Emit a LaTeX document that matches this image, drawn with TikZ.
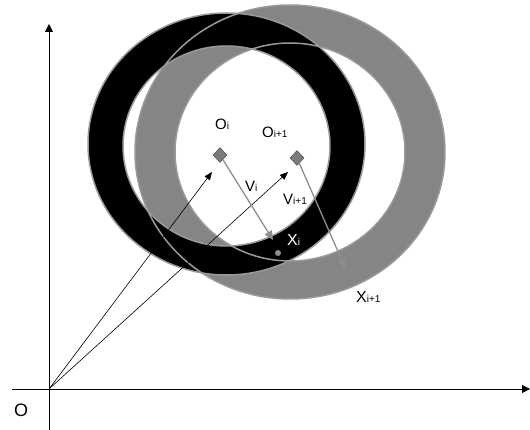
\documentclass[tikz,border=0pt]{standalone}
\usepackage{fontspec}
\setmainfont{Liberation Sans}
\usetikzlibrary{arrows.meta,shapes.geometric}
\definecolor{ringgray}{HTML}{858585}
\definecolor{edgegray}{HTML}{9A9A9A}
\definecolor{vecgray}{HTML}{8E8E8E}
\definecolor{dmdgray}{HTML}{7C7C7C}
\tikzset{
  ringedge/.style={draw=edgegray,line width=1.5pt},
  axisline/.style={line width=0.9pt,-{Triangle[length=8pt,width=8pt]}},
  posvec/.style={line width=0.6pt,black,-{Triangle[length=8pt,width=6.5pt]}},
  velvec/.style={line width=1.3pt,vecgray,-{Triangle[length=9pt,width=8pt]}},
  centre/.style={diamond,fill=dmdgray,draw=black!70,line width=0.5pt,inner sep=0pt,minimum width=14pt,minimum height=15pt},
  lbl/.style={inner sep=0pt,anchor=base west,font=\fontsize{15}{15}\selectfont},
}
\newcommand{\subtx}[1]{{\fontsize{10}{10}\selectfont #1}}
\begin{document}
\begin{tikzpicture}[x=1pt,y=-1pt]
\useasboundingbox (0,0) rectangle (530,430);
% rings
\fill[ringgray,even odd rule] (290,152) ellipse [x radius=155pt,y radius=147pt]
      (290,152) ellipse [x radius=115pt,y radius=109pt];
\fill[black,even odd rule] (226.5,144) ellipse [x radius=138.5pt,y radius=131pt]
      (226.5,146) ellipse [x radius=103.5pt,y radius=100pt];
\draw[ringedge] (290,152) ellipse [x radius=155pt,y radius=147pt];
\draw[ringedge] (290,152) ellipse [x radius=115pt,y radius=109pt];
\draw[ringedge] (226.5,144) ellipse [x radius=138.5pt,y radius=131pt];
\draw[ringedge] (226.5,146) ellipse [x radius=103.5pt,y radius=100pt];
% axes
\coordinate (O) at (49,389);
\coordinate (xs) at (12,389);
\coordinate (xe) at (530,389);
\coordinate (ys) at (49,430);
\coordinate (ye) at (49,24);
\draw[axisline] (xs) -- (xe);
\draw[axisline] (ys) -- (ye);
\node[lbl,font=\fontsize{18}{18}\selectfont] (olab) at (14,416) {O};
% centres and points
\node[centre] (Oi) at (220,155) {};
\node[centre] (Oj) at (297,158) {};
\coordinate (ti) at (212,172);
\coordinate (tj) at (288,172);
\node[circle,fill=vecgray,inner sep=0pt,minimum size=6pt] (Xi) at (278,253) {};
\node[circle,draw=vecgray,densely dotted,line width=0.8pt,inner sep=0pt,minimum size=8pt] (Xj) at (347,272) {};
\coordinate (vi) at (273,240);
% vectors
\draw[posvec] (O) -- (ti);
\draw[posvec] (O) -- (tj);
\draw[velvec] (Oi) -- (vi);
\draw[velvec] (Oj) -- (Xj);
% labels
\node[lbl] (lOi) at (215,130) {O\subtx{i}};
\node[lbl] (lOj) at (262,138) {O\subtx{i+1}};
\node[lbl] (lVi) at (245,192) {V\subtx{i}};
\node[lbl] (lVj) at (283,205) {V\subtx{i+1}};
\node[lbl,white,font=\fontsize{16}{16}\selectfont] (lXi) at (287,246) {X\subtx{i}};
\node[lbl,font=\fontsize{16}{16}\selectfont] (lXj) at (356,303) {X\subtx{i+1}};
\end{tikzpicture}
\end{document}
